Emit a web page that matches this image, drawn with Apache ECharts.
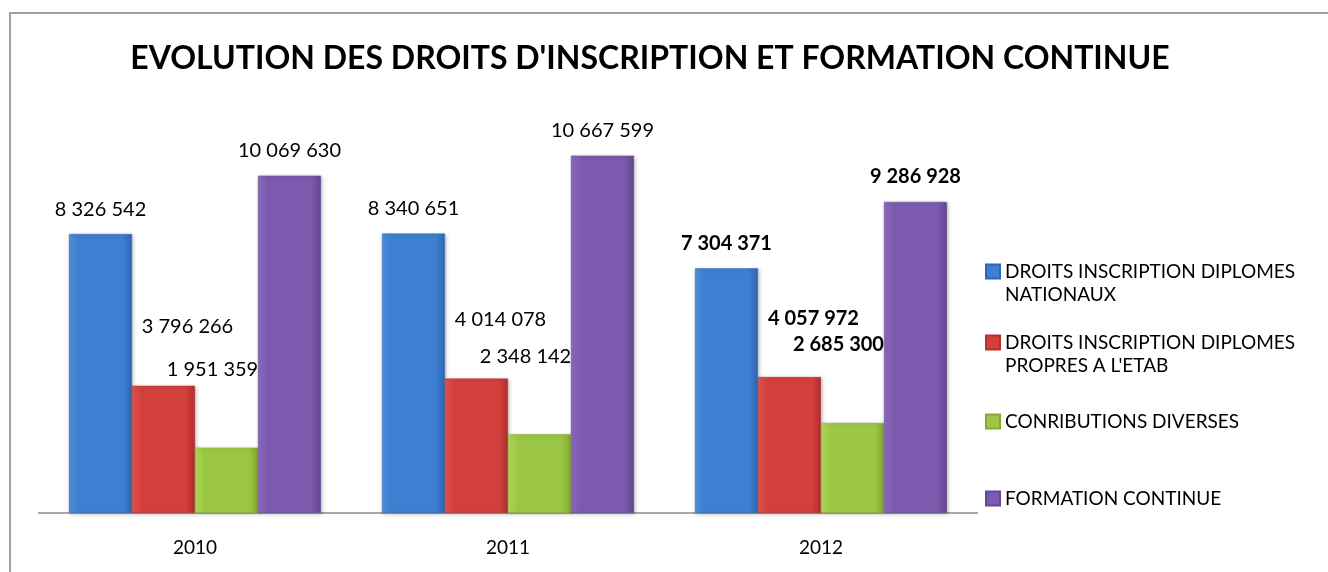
<!DOCTYPE html>
<html>
<head>
<meta charset="utf-8">
<script src="https://cdn.jsdelivr.net/npm/echarts@6/dist/echarts.min.js"></script>
<style>
  html, body { margin: 0; padding: 0; background: #fff; }
  #chart { width: 1328px; height: 572px; }
</style>
</head>
<body>
<div id="chart"></div>
<script>
// categories (years)
const years = ["2010", "2011", "2012"];

// series names
const seriesNames = [
  "DROITS INSCRIPTION DIPLOMES NATIONAUX",
  "DROITS INSCRIPTION DIPLOMES PROPRES A L'ETAB",
  "CONRIBUTIONS DIVERSES",
  "FORMATION CONTINUE"
];

// values per series
const nationaux = [8326542, 8340651, 7304371];
const propres = [3796266, 4014078, 4057972];
const contributions = [1951359, 2348142, 2685300];
const formation = [10069630, 10667599, 9286928];

const FONT = "Lato";

// couleurs : clair à gauche, foncé à droite pour un effet biseauté
const palette = [
  ["#4f8fdc", "#3d7fd0", "#2f67b3"],
  ["#e0524e", "#d2403c", "#b3302d"],
  ["#b2d95a", "#9cc744", "#82ab32"],
  ["#8d6bbd", "#7c5aad", "#654692"]
];

const grad = (c) => new echarts.graphic.LinearGradient(0, 0, 1, 0, [
  { offset: 0, color: c[0] },
  { offset: 0.15, color: c[1] },
  { offset: 0.85, color: c[1] },
  { offset: 1, color: c[2] }
]);

// séparateur de milliers avec espace
const fmt = (v) => String(v).replace(/\B(?=(\d{3})+(?!\d))/g, " ");

const labelFormatter = (p) =>
  p.name === "2012" ? "{b|" + fmt(p.value) + "}" : fmt(p.value);

const makeLabel = (offset) => ({
  show: true,
  position: "top",
  distance: 15,
  offset: offset,
  fontFamily: FONT,
  fontSize: 20,
  color: "#000",
  formatter: labelFormatter,
  rich: { b: { fontFamily: FONT, fontSize: 20, fontWeight: "bold", color: "#000" } }
});

const allValues = [nationaux, propres, contributions, formation];
const labelOffsets = [[0, 0], [24, -34], [-14, -53], [0, 0]];

const chart = echarts.init(document.getElementById("chart"));

// légende : une entrée par composant pour reproduire l'espacement d'Excel
const legendTops = [237, 308, 410, 487];
// ligne vide en tête : l'icône reste alignée sur la première ligne
const wrap = (name) => name.startsWith("DROITS INSCRIPTION DIPLOMES ")
  ? "\n" + name.replace(/^(DROITS INSCRIPTION DIPLOMES) /, "$1\n")
  : name;

chart.setOption({
  animation: false,
  graphic: [{
    type: "rect",
    shape: { x: 10, y: 13, width: 1400, height: 700 },
    style: { fill: "none", stroke: "#a0a0a0", lineWidth: 2 },
    silent: true
  }],
  title: {
    text: "EVOLUTION DES DROITS D'INSCRIPTION ET FORMATION CONTINUE",
    left: 650,
    textAlign: "center",
    top: 43,
    padding: 0,
    textStyle: { fontFamily: FONT, fontSize: 32, fontWeight: "bold", color: "#000" }
  },
  legend: seriesNames.map((n, i) => ({
    data: [n],
    orient: "vertical",
    left: 985,
    top: legendTops[i],
    padding: 0,
    icon: "rect",
    itemWidth: 14,
    itemHeight: 14,
    itemGap: 8,
    selectedMode: false,
    formatter: wrap,
    textStyle: { fontFamily: FONT, fontSize: 19, color: "#000", lineHeight: 23 }
  })),
  grid: { left: 38.5, right: 350.5, top: 111, bottom: 59 },
  xAxis: {
    type: "category",
    data: years,
    axisLine: { lineStyle: { color: "#8c8c8c", width: 1.5 } },
    axisTick: { show: false },
    axisLabel: { fontFamily: FONT, fontSize: 19, color: "#000", margin: 25 }
  },
  yAxis: {
    type: "value",
    min: 0,
    max: 12000000,
    show: false,
    splitLine: { show: false }
  },
  series: seriesNames.map((n, i) => ({
    name: n,
    type: "bar",
    data: allValues[i],
    barGap: "0%",
    barCategoryGap: "19.5%",
    itemStyle: {
      color: grad(palette[i]),
      borderColor: palette[i][2],
      borderWidth: 0.5,
      shadowColor: "rgba(0,0,0,0.25)",
      shadowBlur: 4,
      shadowOffsetX: 1,
      shadowOffsetY: 1
    },
    label: makeLabel(labelOffsets[i])
  }))
});
</script>
</body>
</html>
